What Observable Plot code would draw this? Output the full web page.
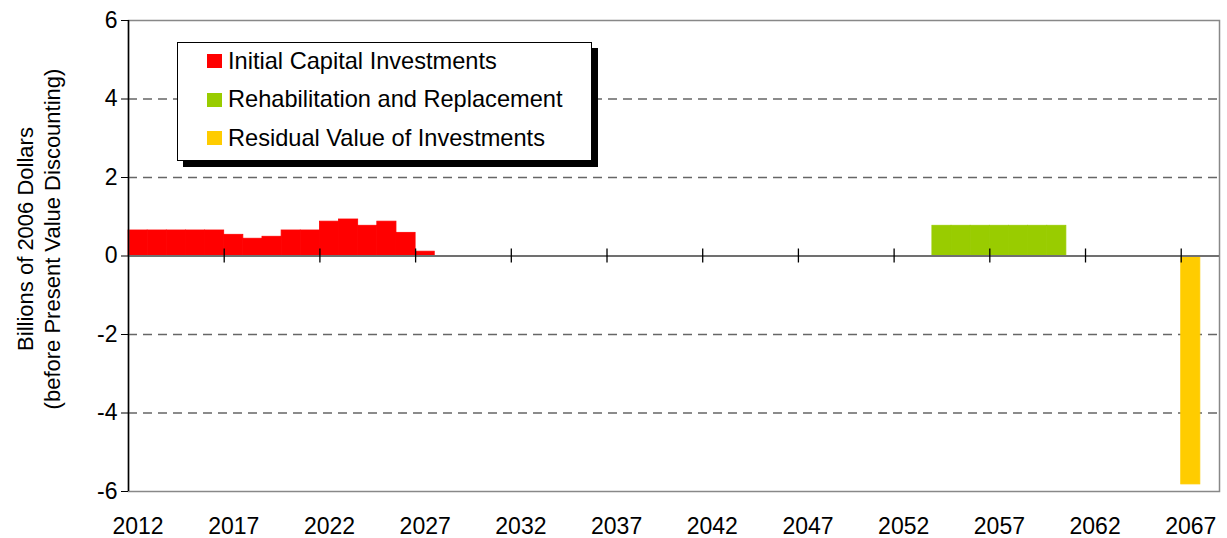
<!DOCTYPE html>
<html>
<head>
<meta charset="utf-8">
<script src="https://cdn.jsdelivr.net/npm/d3@7"></script>
<script src="https://cdn.jsdelivr.net/npm/@observablehq/plot@0.6"></script>
<style>
  html, body { margin: 0; padding: 0; background: #fff; }
  #wrap { position: relative; width: 1227px; height: 538px; font-family: "Liberation Sans", Arial, sans-serif; }
  #legend { position: absolute; left: 177px; top: 42px; width: 413px; height: 117px; background: #fff; border: 1px solid #000; box-shadow: 6px 6px 0 #000; }
  .row { position: absolute; left: 0; height: 38px; display: flex; align-items: center; font-size: 23.6px; color: #000; white-space: nowrap; }
  .sw { display: inline-block; width: 15px; height: 14px; margin-left: 29px; margin-right: 6px; }
</style>
</head>
<body>
<div id="wrap"></div>
<script>
// ---- data ----
const seriesNames = ["Initial Capital Investments", "Rehabilitation and Replacement", "Residual Value of Investments"];
const seriesColors = ["#FF0000", "#99CC00", "#FFCC00"];

const capitalYears = [2012, 2013, 2014, 2015, 2016, 2017, 2018, 2019, 2020, 2021, 2022, 2023, 2024, 2025, 2026, 2027];
const capitalValues = [0.65, 0.65, 0.65, 0.65, 0.65, 0.54, 0.44, 0.49, 0.65, 0.65, 0.875, 0.93, 0.77, 0.875, 0.59, 0.11];

const rehabYears = [2054, 2055, 2056, 2057, 2058, 2059, 2060];
const rehabValues = [0.77, 0.77, 0.77, 0.77, 0.77, 0.77, 0.77];

const residualYears = [2067];
const residualValues = [-5.82];

const xDomain = [2012, 2069];           // categories 2012..2068
const labelYears = [2012, 2017, 2022, 2027, 2032, 2037, 2042, 2047, 2052, 2057, 2062, 2067];
const tickYears = [2017, 2022, 2027, 2032, 2037, 2042, 2047, 2052, 2057, 2062, 2067];
const yTicks = [-6, -4, -2, 0, 2, 4, 6];
const gridTicks = [-4, -2, 2, 4];
const yTitle = "Billions of 2006 Dollars\n(before Present Value Discounting)";

// ---- build table ----
const rows = [];
capitalYears.forEach((y, i) => rows.push({year: y, value: capitalValues[i], series: seriesNames[0]}));
rehabYears.forEach((y, i) => rows.push({year: y, value: rehabValues[i], series: seriesNames[1]}));
residualYears.forEach((y, i) => rows.push({year: y, value: residualValues[i], series: seriesNames[2]}));

const font = "Liberation Sans, Arial, sans-serif";

const chart = Plot.plot({
  width: 1227,
  height: 538,
  marginLeft: 128,
  marginRight: 8,
  marginTop: 20,
  marginBottom: 47,
  style: {fontFamily: font, fontSize: "23px", background: "#fff", color: "#000"},
  x: {domain: xDomain},
  y: {domain: [-6, 6]},
  color: {domain: seriesNames, range: seriesColors},
  marks: [
    Plot.gridY(gridTicks, {stroke: "#666", strokeOpacity: 1, strokeWidth: 1.3, strokeDasharray: "9,6"}),
    Plot.rectY(rows, {x1: "year", x2: d => d.year + 1, y1: 0, y2: "value", fill: "series", stroke: "series", strokeWidth: 0.8}),
    Plot.frame({stroke: "#888", strokeWidth: 1.5}),
    Plot.ruleY([0], {stroke: "#707070", strokeWidth: 2}),
    Plot.ruleX(tickYears, {y1: 0, y2: 0, insetTop: -7, insetBottom: -7, stroke: "#000", strokeWidth: 1.3}),
    Plot.ruleX([xDomain[0]], {stroke: "#000", strokeWidth: 1.5}),
    Plot.axisY(yTicks, {tickSize: 7, tickPadding: 4, fontSize: 23, color: "#000", label: null, tickFormat: d => String(d)}),
    Plot.axisX(labelYears.map(y => y + 0.5), {tickSize: 0, tickPadding: 26, fontSize: 23, color: "#000", label: null, tickFormat: d => String(d - 0.5)}),
    Plot.text([yTitle], {text: d => d, frameAnchor: "left", rotate: -90, dx: -91, dy: -17, textAnchor: "middle", lineHeight: 1.26, fontSize: 22, fill: "#000"})
  ]
});

const wrap = document.getElementById("wrap");
wrap.appendChild(chart);

const legend = document.createElement("div");
legend.id = "legend";
seriesNames.forEach((name, i) => {
  const r = document.createElement("div");
  r.className = "row";
  r.style.top = (-1 + i * 38.5) + "px";
  const sw = document.createElement("span");
  sw.className = "sw";
  sw.style.background = seriesColors[i];
  const t = document.createElement("span");
  t.textContent = name;
  r.appendChild(sw);
  r.appendChild(t);
  legend.appendChild(r);
});
wrap.appendChild(legend);
</script>
</body>
</html>
